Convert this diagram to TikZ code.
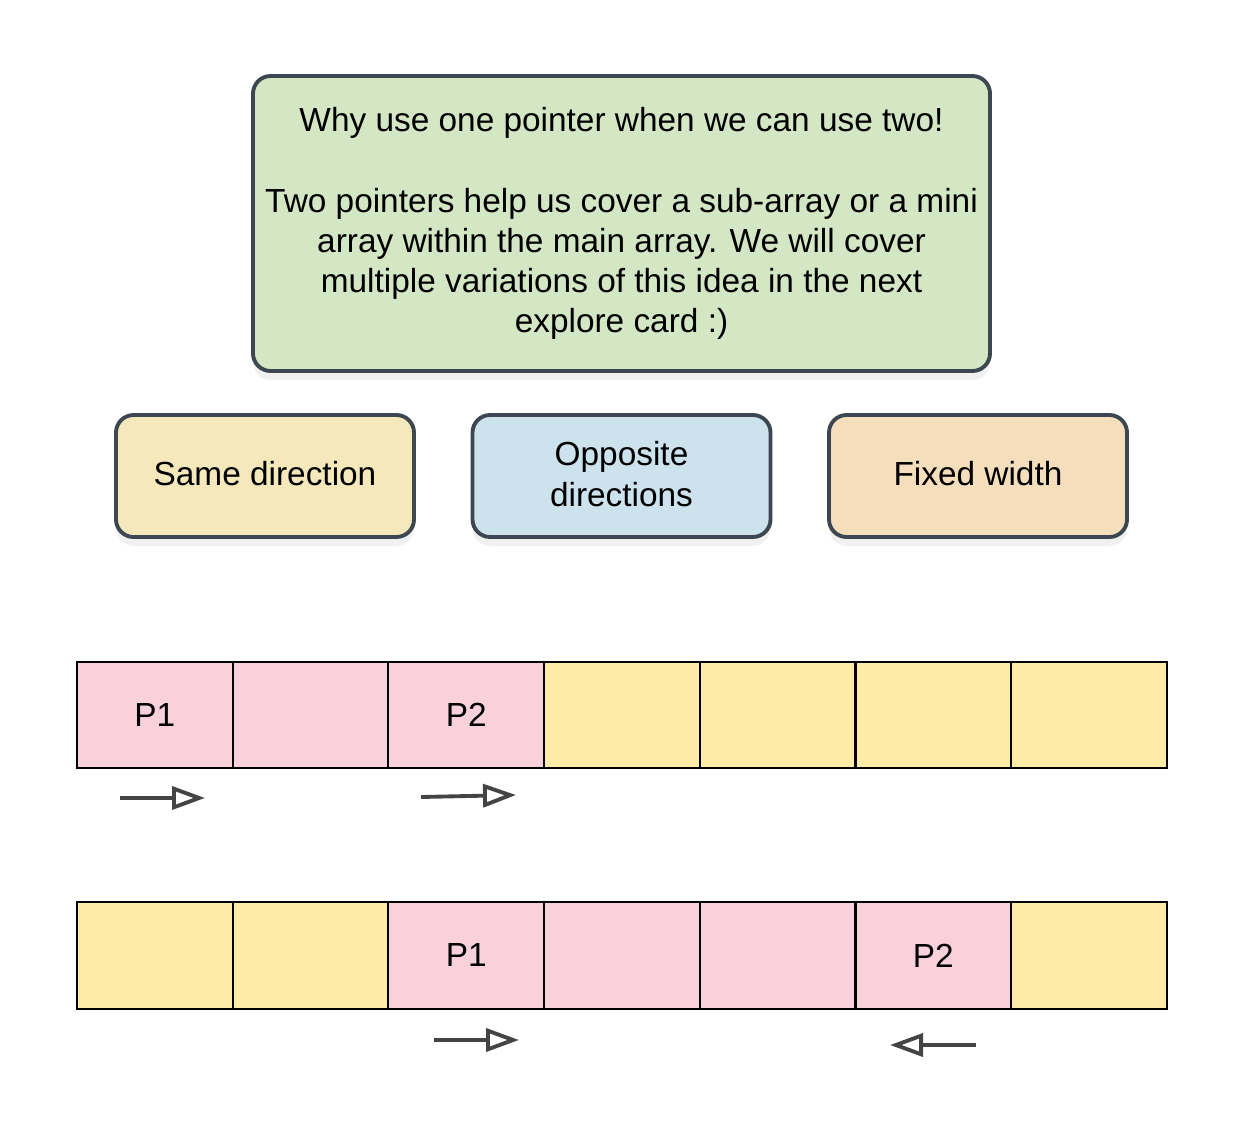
\documentclass[tikz,border=0pt]{standalone}
\usepackage{fontspec}
\setmainfont{Liberation Sans}
\usepackage{tikz}
\usetikzlibrary{arrows.meta,shadows}
\definecolor{edgegray}{HTML}{3D4752}
\definecolor{notegreen}{HTML}{D4E7C4}
\definecolor{sameyellow}{HTML}{F5E8BA}
\definecolor{oppblue}{HTML}{CCE3EE}
\definecolor{fixorange}{HTML}{F5DEBC}
\definecolor{cellpink}{HTML}{F8D1DC}
\definecolor{cellyellow}{HTML}{FEEBA8}
\definecolor{arrowgray}{HTML}{444444}
\tikzset{
  card/.style={draw=edgegray, line width=1.1pt, rounded corners=5pt, align=center,
    font=\fontsize{9.5}{11.4}\selectfont, inner sep=2pt,
    drop shadow={opacity=0.12, shadow xshift=0pt, shadow yshift=-2.5pt}},
  cell/.style={draw=black, line width=0.6pt, minimum width=1.557cm, minimum height=1.065cm,
    inner sep=0pt, font=\fontsize{9.5}{11}\selectfont},
  move/.style={-{Triangle[open, length=0.33cm, width=0.23cm]}, draw=arrowgray, line width=1.1pt}
}
\begin{document}
\begin{tikzpicture}
  \useasboundingbox (0,0) rectangle (12.45,-11.32);
  % top note
  \node[card, fill=notegreen, minimum width=7.37cm, minimum height=2.95cm] (note) at (6.215,-2.235)
    {Why use one pointer when we can use two!\\[11.4pt]
     Two pointers help us cover a sub-array or a mini\\
     array within the main array. We will cover\\
     multiple variations of this idea in the next\\
     explore card :)};
  % three kinds
  \node[card, fill=sameyellow, minimum width=2.98cm, minimum height=1.22cm] (same) at (2.65,-4.76) {Same direction\rule[-1.2pt]{0pt}{0pt}};
  \node[card, fill=oppblue, minimum width=2.98cm, minimum height=1.22cm] (opp) at (6.215,-4.76) {Opposite\\directions\rule[-1.2pt]{0pt}{0pt}};
  \node[card, fill=fixorange, minimum width=2.98cm, minimum height=1.22cm] (fix) at (9.78,-4.76) {Fixed width\rule[-1.2pt]{0pt}{0pt}};
  % arrays
  \foreach \i/\c/\t in {1/cellpink/P1, 2/cellpink/, 3/cellpink/P2, 4/cellyellow/, 5/cellyellow/, 6/cellyellow/, 7/cellyellow/}
    \node[cell, fill=\c] (a\i) at ({0.77+1.557*(\i-0.5)},-7.15) {\t};
  \foreach \i/\c/\t in {1/cellyellow/, 2/cellyellow/, 3/cellpink/P1, 4/cellpink/, 5/cellpink/, 6/cellpink/P2, 7/cellyellow/}
    \node[cell, fill=\c] (b\i) at ({0.77+1.557*(\i-0.5)},-9.555) {\t};
  % pointer moves
  \coordinate (m1s) at (1.20,-7.98);
  \coordinate (m1e) at (2.05,-7.98);
  \coordinate (m2s) at (4.21,-7.97);
  \coordinate (m2e) at (5.16,-7.95);
  \coordinate (m3s) at (4.34,-10.40);
  \coordinate (m3e) at (5.19,-10.40);
  \coordinate (m4s) at (9.76,-10.45);
  \coordinate (m4e) at (8.90,-10.45);
  \draw[move] (m1s) -- (m1e);
  \draw[move] (m2s) -- (m2e);
  \draw[move] (m3s) -- (m3e);
  \draw[move] (m4s) -- (m4e);
\end{tikzpicture}
\end{document}
